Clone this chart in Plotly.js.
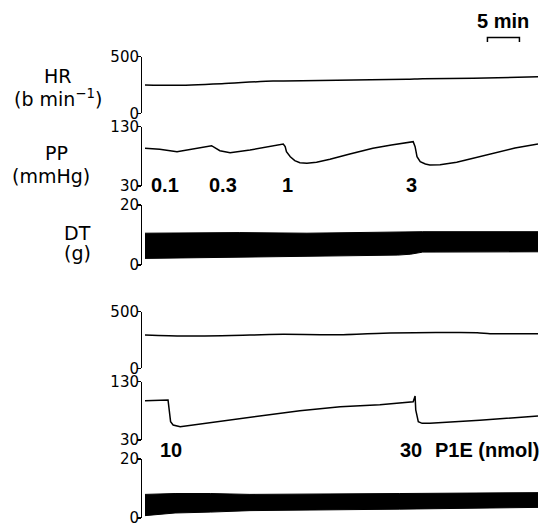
<!DOCTYPE html>
<html>
<head>
<meta charset="utf-8">
<script src="https://cdn.plot.ly/plotly-3.0.1.min.js"></script>
<style>html,body{margin:0;padding:0;background:#fff;}#chart{width:543px;height:526px;}</style>
</head>
<body>
<div id="chart"></div>
<script>
// ---------- DATA (time in minutes) ----------
// Upper record
const tHR1 = [0, 4.4, 12, 20, 30, 40.9, 43.4, 51.3, 61.4];
const hr1  = [250, 247, 262, 285, 292, 300, 305, 309, 323];

const tPP1 = [0, 2.3, 5.0, 7.5, 10.4, 11.7, 13.3, 16.4, 20.0, 21.6, 21.9, 22.1, 22.7, 23.4, 24.2, 25.3, 26.8, 28.9, 32.0, 35.6, 38.5, 41.9, 42.2, 42.5, 43.0, 43.8, 44.5, 46.1, 48.7, 53.9, 57.8, 61.4];
const pp1  = [93.6, 91.9, 87.8, 92.4, 98, 89.5, 86.2, 90.7, 98, 100.8, 96.3, 87.8, 79.4, 72.7, 69.3, 68.3, 70, 75, 84, 93.6, 99, 104.7, 96.3, 79.4, 71, 67.1, 65.4, 65.9, 70, 84, 94, 100.8];

const tDT1   = [0, 14.8, 25.3, 39.5, 41.5, 43.4, 61.4];
const dtMax1 = [10.6, 10.8, 10.6, 10.8, 10.9, 11.1, 11.1];
const dtMin1 = [2.2, 2.6, 3.0, 3.3, 3.6, 4.3, 4.4];

const doseTimes1  = [3.1, 12.2, 22.3, 41.7];
const doseLabels1 = ['0.1', '0.3', '1', '3'];

// Lower record
const tHR2 = [0, 5.9, 16.4, 21.6, 29.4, 38.3, 51.9, 53.9, 61.4];
const hr2  = [294, 285, 294, 300, 296, 312, 315, 306, 306];

const tPP2 = [0, 3.6, 4.0, 4.4, 5.5, 8.6, 14.8, 24.2, 30.5, 36.7, 41.9, 42.2, 42.3, 42.7, 43.3, 44.5, 52.3, 61.4];
const pp2  = [97.4, 98.6, 61.4, 55.7, 52.8, 57.4, 67.2, 80.3, 87.1, 90.5, 95.7, 105.5, 81.5, 61.4, 58.6, 58.6, 64, 71.2];

const tDT2   = [0, 4.7, 10.2, 16.4, 39.8, 61.4];
const dtMax2 = [8.0, 8.3, 8.3, 8.0, 8.3, 8.6];
const dtMin2 = [0.8, 1.7, 2.0, 2.5, 3.0, 3.6];

const doseTimes2  = [4.0, 41.5];
const doseLabels2 = ['10', '30'];
const unitLabel = 'P1E (nmol)';

const hrRange = [0, 500], ppRange = [30, 130], dtRange = [0, 20];
const scaleBar = [53.5, 58.5]; // 5 min

// ---------- LAYOUT HELPERS ----------
const W = 543, H = 526;
const px = x => x / W;
const py = y => 1 - y / H;
const tickFont = {family: 'DejaVu Sans', size: 15, color: '#000'};
const labFont = {family: 'DejaVu Sans', size: 19, color: '#000'};
const boldFont = {family: 'Liberation Sans', size: 20, color: '#000', weight: 'bold'};

function yax(range, top, bottom) {
  return {
    domain: [py(bottom), py(top)], range: range, anchor: 'x',
    showline: true, linecolor: '#000', linewidth: 1.3,
    ticks: 'outside', ticklen: 4, tickwidth: 1.3, tickcolor: '#000',
    tickvals: range, ticktext: range.map(String), tickfont: tickFont,
    ticklabelstandoff: -5, ticklabeloverflow: 'allow',
    showgrid: false, zeroline: false, fixedrange: true
  };
}

const line = {color: '#000', width: 1.5};
const traces = [
  {x: tHR1, y: hr1, yaxis: 'y', mode: 'lines', line: Object.assign({shape: 'spline', smoothing: 0.6}, line)},
  {x: tPP1, y: pp1, yaxis: 'y2', mode: 'lines', line: line},
  {x: tDT1, y: dtMin1, yaxis: 'y3', mode: 'lines', line: {color: '#000', width: 1}},
  {x: tDT1, y: dtMax1, yaxis: 'y3', mode: 'lines', line: {color: '#000', width: 1}, fill: 'tonexty', fillcolor: '#000'},
  {x: tHR2, y: hr2, yaxis: 'y4', mode: 'lines', line: Object.assign({shape: 'spline', smoothing: 0.6}, line)},
  {x: tPP2, y: pp2, yaxis: 'y5', mode: 'lines', line: line},
  {x: tDT2, y: dtMin2, yaxis: 'y6', mode: 'lines', line: {color: '#000', width: 1}},
  {x: tDT2, y: dtMax2, yaxis: 'y6', mode: 'lines', line: {color: '#000', width: 1}, fill: 'tonexty', fillcolor: '#000'}
];

const annotations = [];
function ann(text, x, y, font, xref, xanchor) {
  annotations.push({text: text, x: x, y: y, xref: xref || 'paper', yref: 'paper',
    showarrow: false, font: font, xanchor: xanchor || 'center', yanchor: 'middle'});
}
ann('HR', px(58), py(76), labFont);
ann('(b min<sup>−1</sup>)', px(58), py(98), labFont);
ann('PP', px(56), py(153), labFont);
ann('(mmHg)', px(51), py(176), labFont);
ann('DT', px(77), py(233), labFont);
ann('(g)', px(77), py(253), labFont);
doseLabels1.forEach((s, i) => ann(s, doseTimes1[i], py(185), boldFont, 'x'));
doseLabels2.forEach((s, i) => ann(s, doseTimes2[i], py(450), boldFont, 'x'));
ann(unitLabel, px(433), py(450), boldFont, 'paper', 'left');
ann('5 min', (scaleBar[0] + scaleBar[1]) / 2, py(21), boldFont, 'x');

const shapes = [{
  type: 'path', xref: 'x', yref: 'paper',
  path: `M ${scaleBar[0]},${py(42)} L ${scaleBar[0]},${py(37.5)} L ${scaleBar[1]},${py(37.5)} L ${scaleBar[1]},${py(42)}`,
  line: {color: '#000', width: 1.5}
}];

const layout = {
  width: W, height: H,
  margin: {l: 0, r: 0, t: 0, b: 0},
  paper_bgcolor: '#fff', plot_bgcolor: 'rgba(0,0,0,0)',
  showlegend: false,
  xaxis: {domain: [px(142.3), px(538)], range: [-0.42, 61.4], visible: false, fixedrange: true},
  yaxis:  yax(hrRange, 56.7, 113.3),
  yaxis2: yax(ppRange, 126.7, 186),
  yaxis3: yax(dtRange, 205, 265),
  yaxis4: yax(hrRange, 311.7, 368.3),
  yaxis5: yax(ppRange, 381.7, 440),
  yaxis6: yax(dtRange, 459, 518),
  annotations: annotations,
  shapes: shapes
};

Plotly.newPlot('chart', traces, layout, {staticPlot: true});
</script>
</body>
</html>
